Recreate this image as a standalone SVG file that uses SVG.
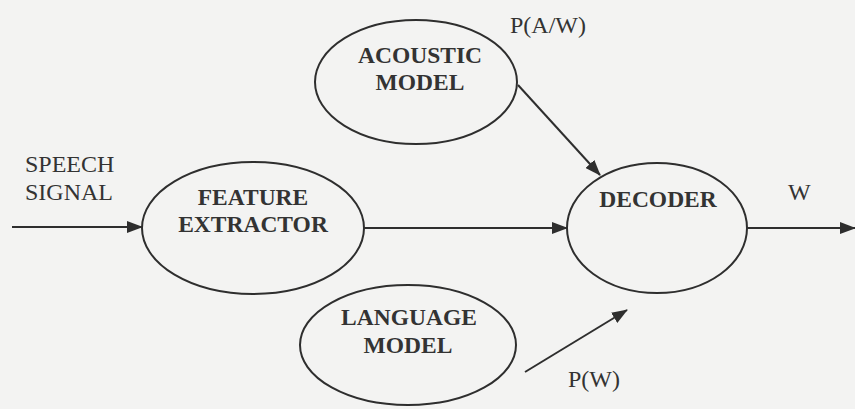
<svg xmlns="http://www.w3.org/2000/svg" width="855" height="409" viewBox="0 0 855 409">
<style>
.bg{fill:#f3f3f2}
.node ellipse{fill:none;stroke:#2e2e2e;stroke-width:2}
.lbl{font-family:'Liberation Serif','DejaVu Serif',serif;font-size:23.5px;font-weight:bold;fill:#333;text-anchor:middle}
.txt{font-family:'Liberation Serif','DejaVu Serif',serif;font-size:24px;fill:#333}
.edges line{stroke:#2e2e2e;stroke-width:2;marker-end:url(#ah)}
</style>
<defs>
<marker id="ah" viewBox="0 0 16 12" refX="15" refY="6" markerWidth="16" markerHeight="12" markerUnits="userSpaceOnUse" orient="auto">
<path d="M0,0 L16,6 L0,12 Z" fill="#2e2e2e"/>
</marker>
</defs>
<rect class="bg" x="0" y="0" width="855" height="409"/>
<g id="acoustic" class="node">
<ellipse cx="416" cy="82" rx="101" ry="62"/>
<text class="lbl" x="420" y="63">ACOUSTIC</text>
<text class="lbl" x="420" y="90">MODEL</text>
</g>
<g id="feature" class="node">
<ellipse cx="253" cy="228" rx="111" ry="66"/>
<text class="lbl" x="253" y="205">FEATURE</text>
<text class="lbl" x="253" y="232">EXTRACTOR</text>
</g>
<g id="decoder" class="node">
<ellipse cx="657" cy="228" rx="90" ry="65"/>
<text class="lbl" x="658" y="207">DECODER</text>
</g>
<g id="language" class="node">
<ellipse cx="408" cy="345" rx="108" ry="60"/>
<text class="lbl" x="409" y="325">LANGUAGE</text>
<text class="lbl" x="408" y="353">MODEL</text>
</g>
<g id="connectors" class="edges">
<line x1="12" y1="227" x2="142" y2="227"/>
<line x1="364" y1="228" x2="567" y2="228"/>
<line x1="518" y1="85" x2="600" y2="175"/>
<line x1="525" y1="372" x2="627" y2="310"/>
<line x1="747" y1="228" x2="855" y2="228"/>
</g>
<g id="labels">
<text class="txt" x="25" y="172">SPEECH</text>
<text class="txt" x="25" y="200">SIGNAL</text>
<text class="txt" x="510" y="33">P(A/W)</text>
<text class="txt" x="788" y="200">W</text>
<text class="txt" x="568" y="387">P(W)</text>
</g>
</svg>
